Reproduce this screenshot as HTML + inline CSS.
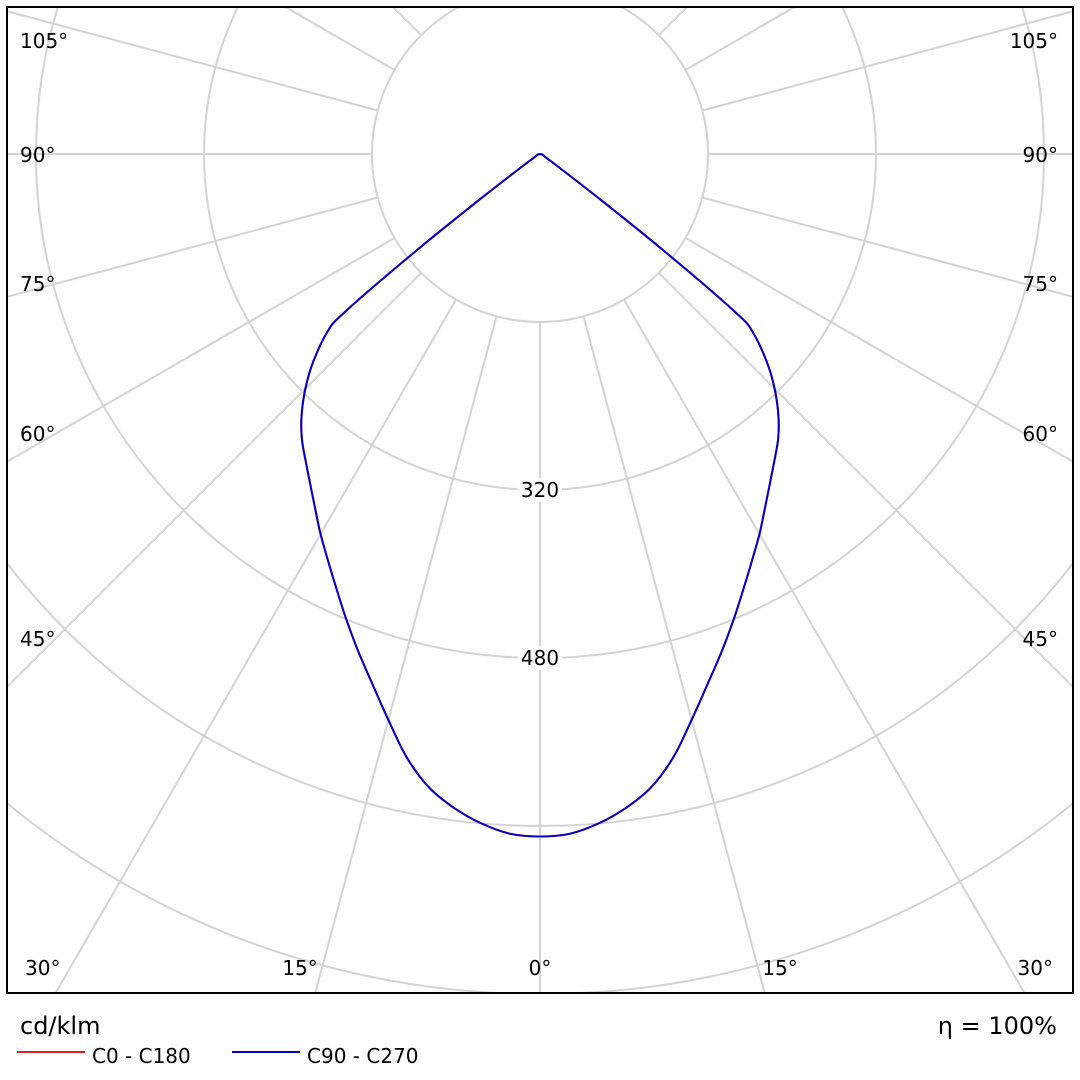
<!DOCTYPE html>
<html><head><meta charset="utf-8"><style>
html,body{margin:0;padding:0;background:#fff;width:1080px;height:1080px;overflow:hidden}
svg{display:block;position:absolute;left:0;top:0;overflow:hidden;font-family:"DejaVu Sans","Liberation Sans",sans-serif}
</style></head><body>
<svg id="chart" width="1080" height="1080" viewBox="0 0 1080 1080" xmlns="http://www.w3.org/2000/svg">
<defs><clipPath id="frameClip"><rect x="7" y="7" width="1066" height="986"/></clipPath></defs>
<g id="grid" clip-path="url(#frameClip)"></g>
<g id="curves" clip-path="url(#frameClip)"></g>
<g id="rlabels"></g>
<rect x="7" y="7" width="1066" height="986" fill="none" stroke="#000" stroke-width="2"/>
<g id="alabels" font-size="20" fill="#000"></g>
<text x="20" y="1034" font-size="24">cd/klm</text>
<text x="1057" y="1034" font-size="24" text-anchor="end">η = 100%</text>
<line x1="17" y1="1052" x2="85" y2="1052" stroke="#e02020" stroke-width="2"/>
<text x="92" y="1063" font-size="20">C0 - C180</text>
<line x1="232" y1="1052" x2="300" y2="1052" stroke="#0000cc" stroke-width="2"/>
<text x="307" y="1063" font-size="20">C90 - C270</text>
</svg>
<script>
const angles = [0,2.5,5,7.5,10,12.5,15,17.5,20,22.5,25,27.5,30,32.5,35,37.5,40,42.5,45,47.5,50,51,52,53,55,60,70,80,90];
const c0Values = [650,648,640,628,612,588,558,530,505,481,458,437,418,399,382,367,353,336,316,293,265,240,150,70,20,6,3,2,0];
const c90Values = [650,648,640,628,612,588,558,530,505,481,458,437,418,399,382,367,353,336,316,293,265,240,150,70,20,6,3,2,0];
const ringValues = [160,320,480,640,800,960,1120,1280];
const ringLabels = ["320","480"];
const spokeAngles = [0,15,30,45,60,75,90,105,120,135,150,165,180,195,210,225,240,255,270,285,300,315,330,345];
const angleLabels = [
 ["105°",20,48,"start"],["90°",20,162,"start"],["75°",20,291,"start"],["60°",20,441,"start"],["45°",20,646,"start"],
 ["105°",1058,48,"end"],["90°",1058,162,"end"],["75°",1058,291,"end"],["60°",1058,441,"end"],["45°",1058,646,"end"],
 ["30°",25,975,"start"],["15°",300,975,"middle"],["0°",540,975,"middle"],["15°",780,975,"middle"],["30°",1053,975,"end"]
];
const CX=540, CY=154, PX=168/160;
const ns="http://www.w3.org/2000/svg";
function rScale(v){return v*PX;}
function pt(a,v,side){const t=a*Math.PI/180;const r=rScale(v);return [CX+side*r*Math.sin(t), CY+r*Math.cos(t)];}
const grid=document.getElementById('grid');
ringValues.forEach(v=>{
 const c=document.createElementNS(ns,'circle');
 
 
 c.setAttribute('cx',CX);c.setAttribute('cy',CY);c.setAttribute('r',rScale(v));
 c.setAttribute('fill','none');c.setAttribute('stroke','#d3d3d3');c.setAttribute('stroke-width','2');
 grid.appendChild(c);
});
spokeAngles.forEach(a=>{
 const t=a*Math.PI/180, r0=rScale(ringValues[0]), r1=2000;
 const l=document.createElementNS(ns,'line');
 
 
 l.setAttribute('x1',CX+r0*Math.sin(t));l.setAttribute('y1',CY+r0*Math.cos(t));
 l.setAttribute('x2',CX+r1*Math.sin(t));l.setAttribute('y2',CY+r1*Math.cos(t));
 l.setAttribute('stroke','#d3d3d3');l.setAttribute('stroke-width','2');
 grid.appendChild(l);
});
const rl=document.getElementById('rlabels');
ringLabels.forEach(s=>{
 const y=CY+rScale(+s);
 const bg=document.createElementNS(ns,'rect');
 
 
 bg.setAttribute('x',CX-22);bg.setAttribute('y',y-12);bg.setAttribute('width',44);bg.setAttribute('height',24);bg.setAttribute('fill','#fff');
 rl.appendChild(bg);
 const t=document.createElementNS(ns,'text');
 
 
 t.setAttribute('x',CX);t.setAttribute('y',y+7);t.setAttribute('text-anchor','middle');t.setAttribute('font-size','20');
 t.textContent=s;rl.appendChild(t);
});
function curvePath(vals){
 const p=[];
 for(let i=angles.length-1;i>=0;i--)p.push(pt(angles[i],vals[i],-1));
 for(let i=1;i<angles.length;i++)p.push(pt(angles[i],vals[i],1));
 let d='M'+p[0][0].toFixed(1)+','+p[0][1].toFixed(1);
 for(let i=0;i<p.length-1;i++){
  const p0=p[Math.max(0,i-1)],p1=p[i],p2=p[i+1],p3=p[Math.min(p.length-1,i+2)];
  const c1=[p1[0]+(p2[0]-p0[0])/6,p1[1]+(p2[1]-p0[1])/6];
  const c2=[p2[0]-(p3[0]-p1[0])/6,p2[1]-(p3[1]-p1[1])/6];
  d+='C'+c1[0].toFixed(1)+','+c1[1].toFixed(1)+' '+c2[0].toFixed(1)+','+c2[1].toFixed(1)+' '+p2[0].toFixed(1)+','+p2[1].toFixed(1);
 }
 return d;
}
const cg=document.getElementById('curves');
[[c0Values,'#e02020','curve-c0-c180'],[c90Values,'#0000cc','curve-c90-c270']].forEach(s=>{
 const p=document.createElementNS(ns,'path');
 
 
 p.setAttribute('d',curvePath(s[0]));p.setAttribute('fill','none');p.setAttribute('stroke',s[1]);
 p.setAttribute('stroke-width','2');p.setAttribute('stroke-linejoin','round');
 cg.appendChild(p);
});
const al=document.getElementById('alabels');
angleLabels.forEach(l=>{
 const t=document.createElementNS(ns,'text');
 
 
 t.setAttribute('x',l[1]);t.setAttribute('y',l[2]);t.setAttribute('text-anchor',l[3]);
 t.textContent=l[0];al.appendChild(t);
});
</script>
</body></html>
